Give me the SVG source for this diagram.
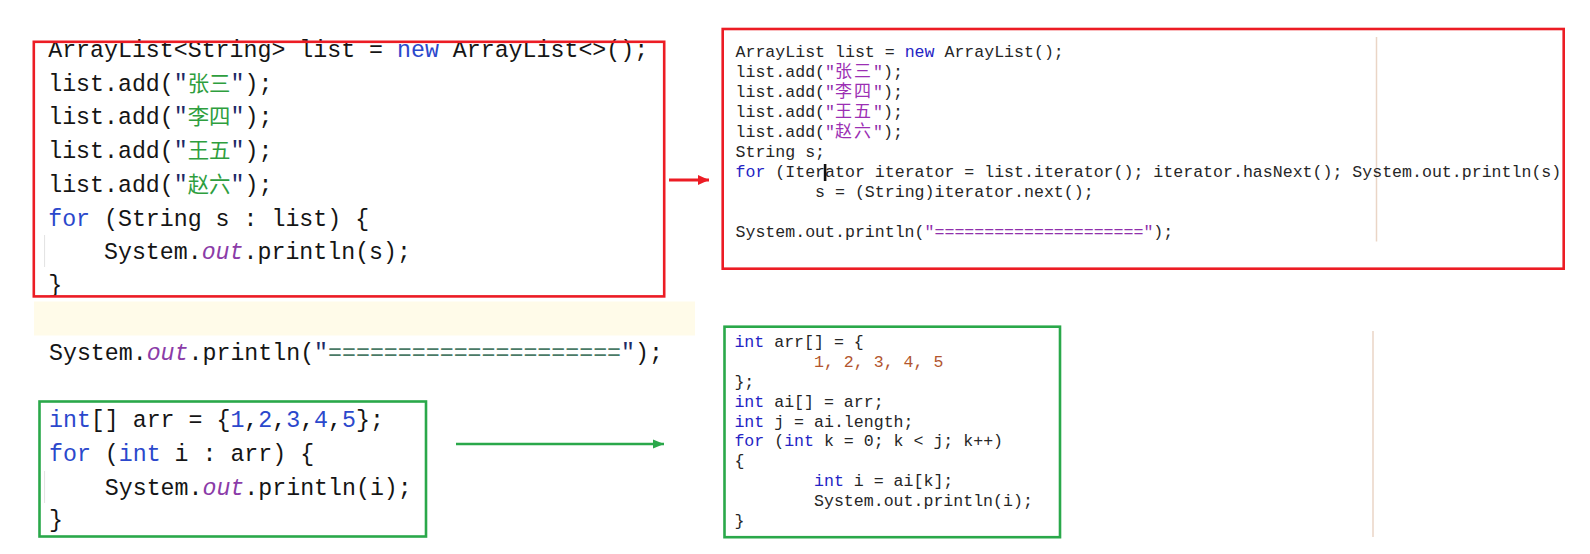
<svg xmlns="http://www.w3.org/2000/svg" width="1590" height="554" viewBox="0 0 1590 554">
<style>
text{white-space:pre}
.big{font-family:"Liberation Mono","Noto Sans CJK SC",monospace;font-size:23.25px;fill:#151515}
.sm{font-family:"Liberation Mono","Noto Sans CJK SC",monospace;font-size:16.58px;fill:#262626}
.kw{fill:#2b48cc}
.kw2{fill:#2424c4}
.fld{fill:#8b3ca8;font-style:italic}
.cnL{fill:#2e9e3e;font-family:"Noto Sans CJK SC",sans-serif;font-size:21.4px}
.cnR{fill:#9c2fb4;font-family:"Noto Sans CJK SC",sans-serif;font-size:17px;letter-spacing:2px}
.q{fill:#1e2a66}
.strR{fill:#9030ac}
.strL{fill:#4a7a66}
.num{fill:#2b48cc}
.numR{fill:#b2552e}
.red{fill:none;stroke:#ec1c24;stroke-width:2.6}
.grn{fill:none;stroke:#2aa84a;stroke-width:2.6}
.guide{stroke:#e2e2e2;stroke-width:1}
.ruler{stroke:#ead5c6;stroke-width:1.5}
</style>
<defs>
<marker id="ahRed" markerUnits="userSpaceOnUse" markerWidth="12" markerHeight="10" refX="11" refY="5" orient="auto">
<path d="M0,0 L11,5 L0,10 Z" fill="#ec1c24"/>
</marker>
<marker id="ahGrn" markerUnits="userSpaceOnUse" markerWidth="12" markerHeight="10" refX="11" refY="5" orient="auto">
<path d="M0,0.5 L11,5 L0,9.5 Z" fill="#2aa84a"/>
</marker>
</defs>
<rect width="1590" height="554" fill="#ffffff"/>

<rect id="highlight-band" x="34" y="301.5" width="661" height="34" fill="#fffbe9"/>

<g id="node-list-foreach">
<line class="guide" x1="44.6" y1="235" x2="44.6" y2="267"/>
<text class="big" x="48.2" y="56.8">ArrayList&lt;String&gt; list = <tspan class="kw">new</tspan> ArrayList&lt;&gt;();</text>
<text class="big" x="48.2" y="90.6">list.add(<tspan class="q">"</tspan><tspan class="cnL">张三</tspan><tspan class="q">"</tspan>);</text>
<text class="big" x="48.2" y="124.3">list.add(<tspan class="q">"</tspan><tspan class="cnL">李四</tspan><tspan class="q">"</tspan>);</text>
<text class="big" x="48.2" y="158.1">list.add(<tspan class="q">"</tspan><tspan class="cnL">王五</tspan><tspan class="q">"</tspan>);</text>
<text class="big" x="48.2" y="191.8">list.add(<tspan class="q">"</tspan><tspan class="cnL">赵六</tspan><tspan class="q">"</tspan>);</text>
<text class="big" x="48.2" y="225.6"><tspan class="kw">for</tspan> (String s : list) {</text>
<text class="big" x="104" y="259.3">System.<tspan class="fld">out</tspan>.println(s);</text>
<text class="big" x="48.2" y="291.5">}</text>
<rect class="red" x="33.8" y="41.8" width="630.4" height="254.6"/>
</g>

<text id="separator-line" class="big" x="49" y="359.5">System.<tspan class="fld">out</tspan>.println(<tspan class="q">"</tspan><tspan class="strL">=====================</tspan><tspan class="q">"</tspan>);</text>

<g id="node-array-foreach">
<line class="guide" x1="44.6" y1="471" x2="44.6" y2="503"/>
<text class="big" x="49" y="427"><tspan class="kw">int</tspan>[] arr = {<tspan class="num">1</tspan>,<tspan class="num">2</tspan>,<tspan class="num">3</tspan>,<tspan class="num">4</tspan>,<tspan class="num">5</tspan>};</text>
<text class="big" x="49" y="460.8"><tspan class="kw">for</tspan> (<tspan class="kw">int</tspan> i : arr) {</text>
<text class="big" x="104.8" y="494.6">System.<tspan class="fld">out</tspan>.println(i);</text>
<text class="big" x="49" y="526.5">}</text>
<rect class="grn" x="39.5" y="401.5" width="386.5" height="135"/>
</g>

<g id="node-list-decompiled">
<line class="ruler" x1="1376.5" y1="37" x2="1376.5" y2="241.5"/>
<text class="sm" x="735.5" y="57.3">ArrayList list = <tspan class="kw2">new</tspan> ArrayList();</text>
<text class="sm" x="735.5" y="77.3">list.add(<tspan class="strR">"</tspan><tspan class="cnR">张三</tspan><tspan class="strR">"</tspan>);</text>
<text class="sm" x="735.5" y="97.3">list.add(<tspan class="strR">"</tspan><tspan class="cnR">李四</tspan><tspan class="strR">"</tspan>);</text>
<text class="sm" x="735.5" y="117.3">list.add(<tspan class="strR">"</tspan><tspan class="cnR">王五</tspan><tspan class="strR">"</tspan>);</text>
<text class="sm" x="735.5" y="137.3">list.add(<tspan class="strR">"</tspan><tspan class="cnR">赵六</tspan><tspan class="strR">"</tspan>);</text>
<text class="sm" x="735.5" y="157.3">String s;</text>
<text class="sm" x="735.5" y="177.3"><tspan class="kw2">for</tspan> (Iterator iterator = list.iterator(); iterator.hasNext(); System.out.println(s)</text>
<text class="sm" x="815.1" y="197.3">s = (String)iterator.next();</text>
<text class="sm" x="735.5" y="237.3">System.out.println(<tspan class="strR">"=====================</tspan><tspan class="strR">"</tspan>);</text>
<rect x="823.8" y="164" width="2.6" height="17" fill="#111111"/>
<rect class="red" x="722.7" y="29" width="841" height="239.7"/>
</g>

<g id="node-array-decompiled">
<line class="ruler" x1="1373" y1="331" x2="1373" y2="537"/>
<text class="sm" x="734.4" y="347.2"><tspan class="kw2">int</tspan> arr[] = {</text>
<text class="sm numR" x="814" y="367">1, 2, 3, 4, 5</text>
<text class="sm" x="734.4" y="386.9">};</text>
<text class="sm" x="734.4" y="406.7"><tspan class="kw2">int</tspan> ai[] = arr;</text>
<text class="sm" x="734.4" y="426.6"><tspan class="kw2">int</tspan> j = ai.length;</text>
<text class="sm" x="734.4" y="446.4"><tspan class="kw2">for</tspan> (<tspan class="kw2">int</tspan> k = 0; k &lt; j; k++)</text>
<text class="sm" x="734.4" y="466.3">{</text>
<text class="sm" x="814" y="486.1"><tspan class="kw2">int</tspan> i = ai[k];</text>
<text class="sm" x="814" y="506">System.out.println(i);</text>
<text class="sm" x="734.4" y="525.8">}</text>
<rect class="grn" x="724.5" y="326.7" width="335.5" height="210.5"/>
</g>

<g id="connectors">
<line x1="669" y1="180" x2="709" y2="180" stroke="#ec1c24" stroke-width="3" marker-end="url(#ahRed)"/>
<line x1="456" y1="444" x2="664" y2="444" stroke="#2aa84a" stroke-width="2.6" marker-end="url(#ahGrn)"/>
</g>
</svg>
